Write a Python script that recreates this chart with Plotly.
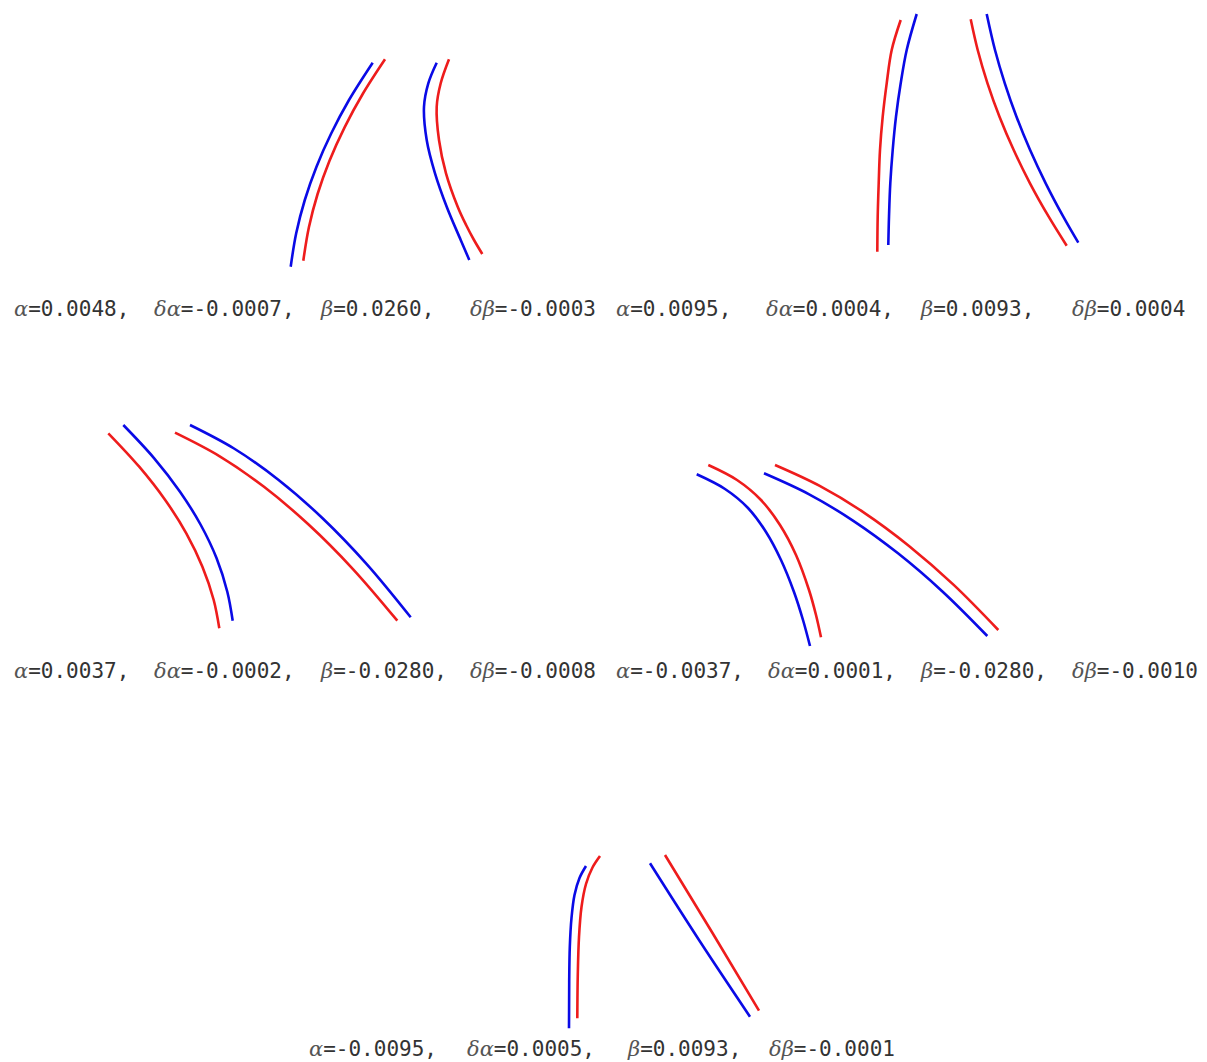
import plotly.graph_objects as go

# ---- caption values (one per panel) ----
ALPHA = [0.0048, 0.0095, 0.0037, -0.0037, -0.0095]
D_ALPHA = [-0.0007, 0.0004, -0.0002, 0.0001, 0.0005]
BETA = [0.0260, 0.0093, -0.0280, -0.0280, 0.0093]
D_BETA = [-0.0003, 0.0004, -0.0008, -0.0010, -0.0001]

# ---- curve samples (page pixel space) ----
# panel 1
P1_BLUE_L_X = [290.7, 296.2, 304.8, 316.5, 331.3, 349.0, 372.7]
P1_BLUE_L_Y = [266.7, 233.3, 200.0, 166.7, 133.3, 100.0, 62.7]
P1_RED_L_X = [303.3, 308.9, 317.6, 329.5, 344.6, 362.7, 385.0]
P1_RED_L_Y = [260.7, 227.3, 194.0, 160.7, 127.3, 94.0, 59.3]
P1_BLUE_R_X = [436.7, 428.3, 424.0, 426.7, 435.0, 446.7, 460.7, 469.3]
P1_BLUE_R_Y = [62.7, 83.3, 106.7, 140.0, 173.3, 206.7, 240.0, 260.0]
P1_RED_R_X = [449.0, 440.7, 436.7, 439.0, 446.0, 457.7, 466.1, 474.0, 482.3]
P1_RED_R_Y = [59.3, 83.3, 106.7, 140.0, 173.3, 206.7, 225.0, 240.0, 254.0]
# panel 2
P2_RED_L_X = [900.7, 891.7, 886.7, 882.7, 880.0, 878.7, 877.7, 877.3]
P2_RED_L_Y = [20.0, 50.0, 83.3, 116.7, 150.0, 183.3, 216.7, 251.7]
P2_BLUE_L_X = [916.7, 906.7, 900.7, 896.0, 892.7, 890.3, 889.0, 888.3]
P2_BLUE_L_Y = [14.0, 50.0, 83.3, 116.7, 150.0, 183.3, 216.7, 245.0]
P2_RED_R_X = [970.7, 977.7, 987.5, 999.5, 1013.7, 1030.0, 1048.7, 1066.7]
P2_RED_R_Y = [19.3, 50.0, 83.3, 116.7, 150.0, 183.3, 216.7, 245.7]
P2_BLUE_R_X = [986.7, 995.0, 1004.8, 1016.5, 1030.1, 1045.7, 1063.3, 1078.3]
P2_BLUE_R_Y = [14.0, 50.0, 83.3, 116.7, 150.0, 183.3, 216.7, 242.7]
# panel 3
P3_RED_L_X = [108.3, 139.2, 165.2, 186.3, 202.4, 213.7, 219.3]
P3_RED_L_Y = [433.3, 466.7, 500.0, 533.3, 566.7, 600.0, 628.3]
P3_BLUE_L_X = [123.3, 154.2, 180.0, 200.8, 216.6, 227.3, 232.7]
P3_BLUE_L_Y = [425.0, 458.3, 491.7, 525.0, 558.3, 591.7, 620.7]
P3_RED_R_X = [175.0, 219.3, 264.0, 308.3, 352.7, 397.3]
P3_RED_R_Y = [432.7, 456.1, 486.8, 524.3, 568.8, 620.7]
P3_BLUE_R_X = [190.0, 234.0, 278.3, 322.3, 366.7, 410.7]
P3_BLUE_R_Y = [425.0, 448.5, 479.7, 518.0, 564.1, 617.3]
# panel 4
P4_BLUE_L_X = [696.7, 725.0, 748.0, 766.0, 781.0, 794.0, 803.0, 810.0]
P4_BLUE_L_Y = [474.3, 489.0, 508.0, 532.0, 560.0, 592.0, 620.0, 646.0]
P4_RED_L_X = [708.3, 737.0, 761.0, 780.0, 796.0, 809.0, 816.0, 821.0]
P4_RED_L_Y = [465.0, 480.0, 500.0, 525.0, 555.0, 590.0, 615.0, 637.3]
P4_BLUE_R_X = [764.0, 808.7, 853.3, 898.0, 942.7, 987.3]
P4_BLUE_R_Y = [473.3, 494.1, 520.8, 553.3, 591.7, 636.0]
P4_RED_R_X = [775.0, 819.7, 864.3, 909.0, 953.7, 998.3]
P4_RED_R_Y = [465.0, 485.9, 512.8, 545.9, 584.9, 630.0]
# panel 5
P5_BLUE_L_X = [586.0, 579.5, 574.5, 571.5, 569.8, 569.2, 569.0]
P5_BLUE_L_Y = [866.0, 878.0, 895.0, 918.0, 947.0, 982.0, 1028.3]
P5_RED_L_X = [600.0, 592.5, 586.0, 581.5, 579.0, 577.8, 577.3]
P5_RED_L_Y = [856.0, 867.5, 884.0, 907.0, 937.0, 974.0, 1018.3]
P5_BLUE_R_X = [650.0, 699.0, 750.0]
P5_BLUE_R_Y = [863.3, 940.0, 1016.7]
P5_RED_R_X = [665.0, 712.5, 759.0]
P5_RED_R_Y = [855.0, 933.0, 1010.7]

BLUE = "#0a0ae6"
RED = "#ee1c1c"

curves = [
    (P1_BLUE_L_X, P1_BLUE_L_Y, BLUE), (P1_RED_L_X, P1_RED_L_Y, RED),
    (P1_BLUE_R_X, P1_BLUE_R_Y, BLUE), (P1_RED_R_X, P1_RED_R_Y, RED),
    (P2_RED_L_X, P2_RED_L_Y, RED), (P2_BLUE_L_X, P2_BLUE_L_Y, BLUE),
    (P2_RED_R_X, P2_RED_R_Y, RED), (P2_BLUE_R_X, P2_BLUE_R_Y, BLUE),
    (P3_RED_L_X, P3_RED_L_Y, RED), (P3_BLUE_L_X, P3_BLUE_L_Y, BLUE),
    (P3_RED_R_X, P3_RED_R_Y, RED), (P3_BLUE_R_X, P3_BLUE_R_Y, BLUE),
    (P4_BLUE_L_X, P4_BLUE_L_Y, BLUE), (P4_RED_L_X, P4_RED_L_Y, RED),
    (P4_BLUE_R_X, P4_BLUE_R_Y, BLUE), (P4_RED_R_X, P4_RED_R_Y, RED),
    (P5_BLUE_L_X, P5_BLUE_L_Y, BLUE), (P5_RED_L_X, P5_RED_L_Y, RED),
    (P5_BLUE_R_X, P5_BLUE_R_Y, BLUE), (P5_RED_R_X, P5_RED_R_Y, RED),
]

fig = go.Figure()
for xs, ys, col in curves:
    fig.add_trace(go.Scatter(x=xs, y=ys, mode="lines",
                             line=dict(color=col, width=2.6, shape="spline", smoothing=1.0),
                             hoverinfo="skip", showlegend=False))

# caption layout: vertical centre and left x of each term
CAP_Y = [309, 309, 671, 671, 1049]
CAP_X = [
    [12, 152, 318, 468],
    [614, 764, 918, 1070],
    [12, 152, 318, 468],
    [614, 766, 918, 1070],
    [307, 465, 625, 767],
]
GREEK = "<span style='font-family:\"DejaVu Serif\";font-style:italic;color:#555'>{}</span>"

for i in range(5):
    terms = [
        GREEK.format("α") + "=" + f"{ALPHA[i]:.4f},",
        GREEK.format("δα") + "=" + f"{D_ALPHA[i]:.4f},",
        GREEK.format("β") + "=" + f"{BETA[i]:.4f},",
        GREEK.format("δβ") + "=" + f"{D_BETA[i]:.4f}",
    ]
    for t, x in zip(terms, CAP_X[i]):
        fig.add_annotation(x=x, y=CAP_Y[i], xref="x", yref="y", text=t,
                           showarrow=False, xanchor="left", yanchor="middle",
                           font=dict(family="DejaVu Sans Mono", size=21, color="#333333"))

fig.update_layout(
    width=1207, height=1062,
    margin=dict(l=0, r=0, t=0, b=0),
    paper_bgcolor="white", plot_bgcolor="white",
    xaxis=dict(range=[0, 1207], visible=False, fixedrange=True),
    yaxis=dict(range=[1062, 0], visible=False, fixedrange=True),
)

fig.write_html("out.html", config={"displayModeBar": False},
               post_script="document.body.style.margin='0';")
